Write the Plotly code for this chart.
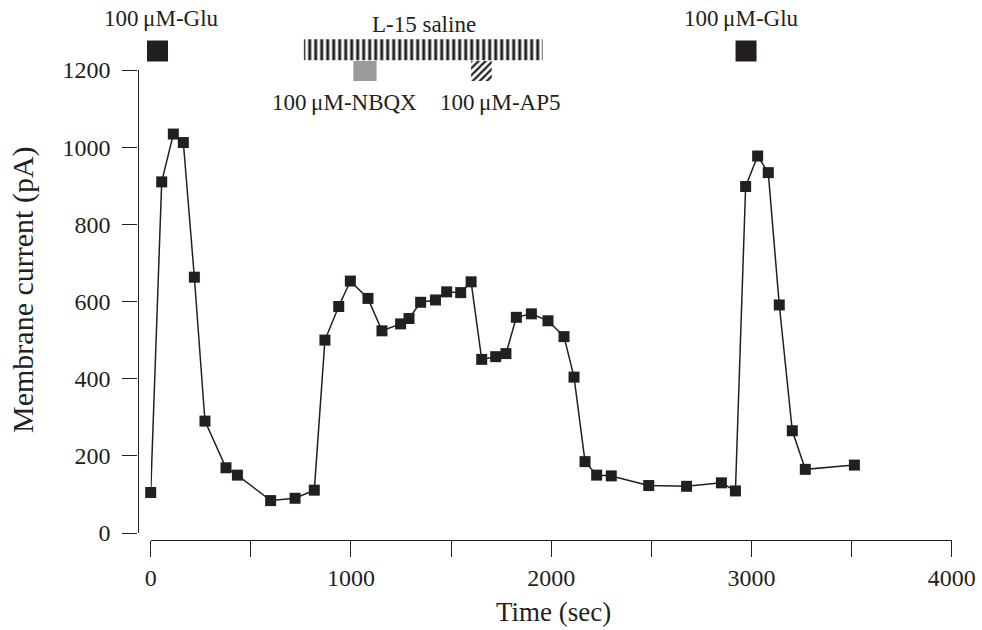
import plotly.graph_objects as go

# ---- data ----
time_sec = [0, 55, 113, 163, 218, 271, 376, 433, 599, 721, 817, 870, 939, 997,
            1085, 1155, 1248, 1290, 1348, 1422, 1478, 1548, 1600, 1653, 1723,
            1774, 1826, 1901, 1984, 2064, 2114, 2169, 2227, 2300, 2487, 2676,
            2850, 2920, 2971, 3031, 3084, 3139, 3204, 3269, 3514]
current_pA = [105, 910, 1034, 1012, 663, 290, 169, 150, 84, 90, 111, 500, 587,
              653, 608, 524, 542, 556, 598, 604, 625, 623, 651, 450, 457, 465,
              559, 568, 550, 509, 404, 185, 150, 148, 123, 121, 130, 109, 898,
              977, 934, 591, 265, 165, 176]

glu_times = [34, 2973]                 # 100 uM glutamate applications
saline_period = [765, 1958]            # L-15 saline
nbqx_period = [1012, 1128]             # 100 uM NBQX
ap5_period = [1600, 1703]              # 100 uM AP5

x_tick_vals = [0, 500, 1000, 1500, 2000, 2500, 3000, 3500, 4000]
x_tick_text = ["0", "", "1000", "", "2000", "", "3000", "", "4000"]
y_tick_vals = [0, 200, 400, 600, 800, 1000, 1200]

x_title = "Time (sec)"
y_title = "Membrane current (pA)"

INK = "#231f20"
FONT = "Liberation Serif"
W, H = 982, 630

fig = go.Figure()

# main trace
fig.add_trace(go.Scatter(
    x=time_sec, y=current_pA, mode="lines+markers",
    line=dict(color=INK, width=1.5),
    marker=dict(symbol="square", size=11, color=INK, line=dict(width=0)),
    cliponaxis=False, showlegend=False, xaxis="x", yaxis="y"))

# drug application bars (top strip, on y2 whose units are px from the top)
fig.add_trace(go.Bar(
    orientation="h", y=[49.7], x=[saline_period[1] - saline_period[0]],
    base=[saline_period[0]], width=[21],
    marker=dict(color="white", line=dict(width=0),
                pattern=dict(shape="|", fgcolor=INK, bgcolor="white",
                             size=6, solidity=0.5, fillmode="replace")),
    showlegend=False, xaxis="x", yaxis="y2"))
fig.add_trace(go.Bar(
    orientation="h", y=[71], x=[nbqx_period[1] - nbqx_period[0]],
    base=[nbqx_period[0]], width=[20],
    marker=dict(color="#9a9a9a", line=dict(width=0)),
    showlegend=False, xaxis="x", yaxis="y2"))
fig.add_trace(go.Bar(
    orientation="h", y=[71], x=[ap5_period[1] - ap5_period[0]],
    base=[ap5_period[0]], width=[20],
    marker=dict(color="white", line=dict(width=0),
                pattern=dict(shape="/", fgcolor=INK, bgcolor="white",
                             size=5, solidity=0.45, fillmode="replace")),
    showlegend=False, xaxis="x", yaxis="y2"))
fig.add_trace(go.Scatter(
    x=glu_times, y=[51, 51], mode="markers",
    marker=dict(symbol="square", size=21, color=INK, line=dict(width=0)),
    cliponaxis=False, showlegend=False, xaxis="x", yaxis="y2"))

ann_font = dict(family=FONT, size=23, color=INK)
annotations = [
    dict(text="100\u2009\u03bcM-Glu", x=54, y=18.5),
    dict(text="100\u2009\u03bcM-Glu", x=2951, y=18.5),
    dict(text="L-15 saline", x=1366, y=24),
    dict(text="100\u2009\u03bcM-NBQX", x=970, y=102),
    dict(text="100\u2009\u03bcM-AP5", x=1744, y=102),
]
for a in annotations:
    a.update(xref="x", yref="y2", showarrow=False, font=ann_font,
             xanchor="center", yanchor="middle")

# axis titles
annotations.append(dict(text=x_title, xref="paper", yref="paper",
                        x=553 / W, y=(H - 612) / H, xanchor="center",
                        yanchor="middle", showarrow=False,
                        font=dict(family=FONT, size=27, color=INK)))
annotations.append(dict(text=y_title, xref="paper", yref="paper",
                        x=23 / W, y=(H - 290) / H, xanchor="center",
                        yanchor="middle", showarrow=False, textangle=-90,
                        font=dict(family=FONT, size=30, color=INK)))

fig.update_layout(
    width=W, height=H,
    margin=dict(l=0, r=0, t=0, b=0, autoexpand=False),
    paper_bgcolor="white", plot_bgcolor="rgba(0,0,0,0)",
    font=dict(family=FONT, color=INK),
    barmode="overlay",
    annotations=annotations,
    xaxis=dict(
        domain=[150.7 / W, 951.7 / W], range=[0, 4000],
        anchor="free", position=(H - 540) / H, automargin=False,
        showline=True, linecolor=INK, linewidth=1.3,
        ticks="outside", ticklen=16, tickwidth=1.3, tickcolor=INK,
        tickvals=x_tick_vals, ticktext=x_tick_text,
        tickfont=dict(family=FONT, size=24, color=INK),
        showgrid=False, zeroline=False,
    ),
    yaxis=dict(
        domain=[(H - 533) / H, (H - 70) / H], range=[0, 1200],
        anchor="free", position=137.5 / W, automargin=False,
        showline=True, linecolor=INK, linewidth=1.3,
        ticks="outside", ticklen=15, tickwidth=1.3, tickcolor=INK,
        tickvals=y_tick_vals, ticklabelstandoff=7,
        tickfont=dict(family=FONT, size=24, color=INK),
        showgrid=False, zeroline=False,
    ),
    yaxis2=dict(
        domain=[(H - 130) / H, 1], range=[130, 0], automargin=False,
        anchor="x", visible=False, fixedrange=True,
    ),
)

fig.write_html("out.html",
               config={"displayModeBar": False},
               post_script="document.body.style.margin='0px';"
                           "document.body.style.overflow='hidden';")
